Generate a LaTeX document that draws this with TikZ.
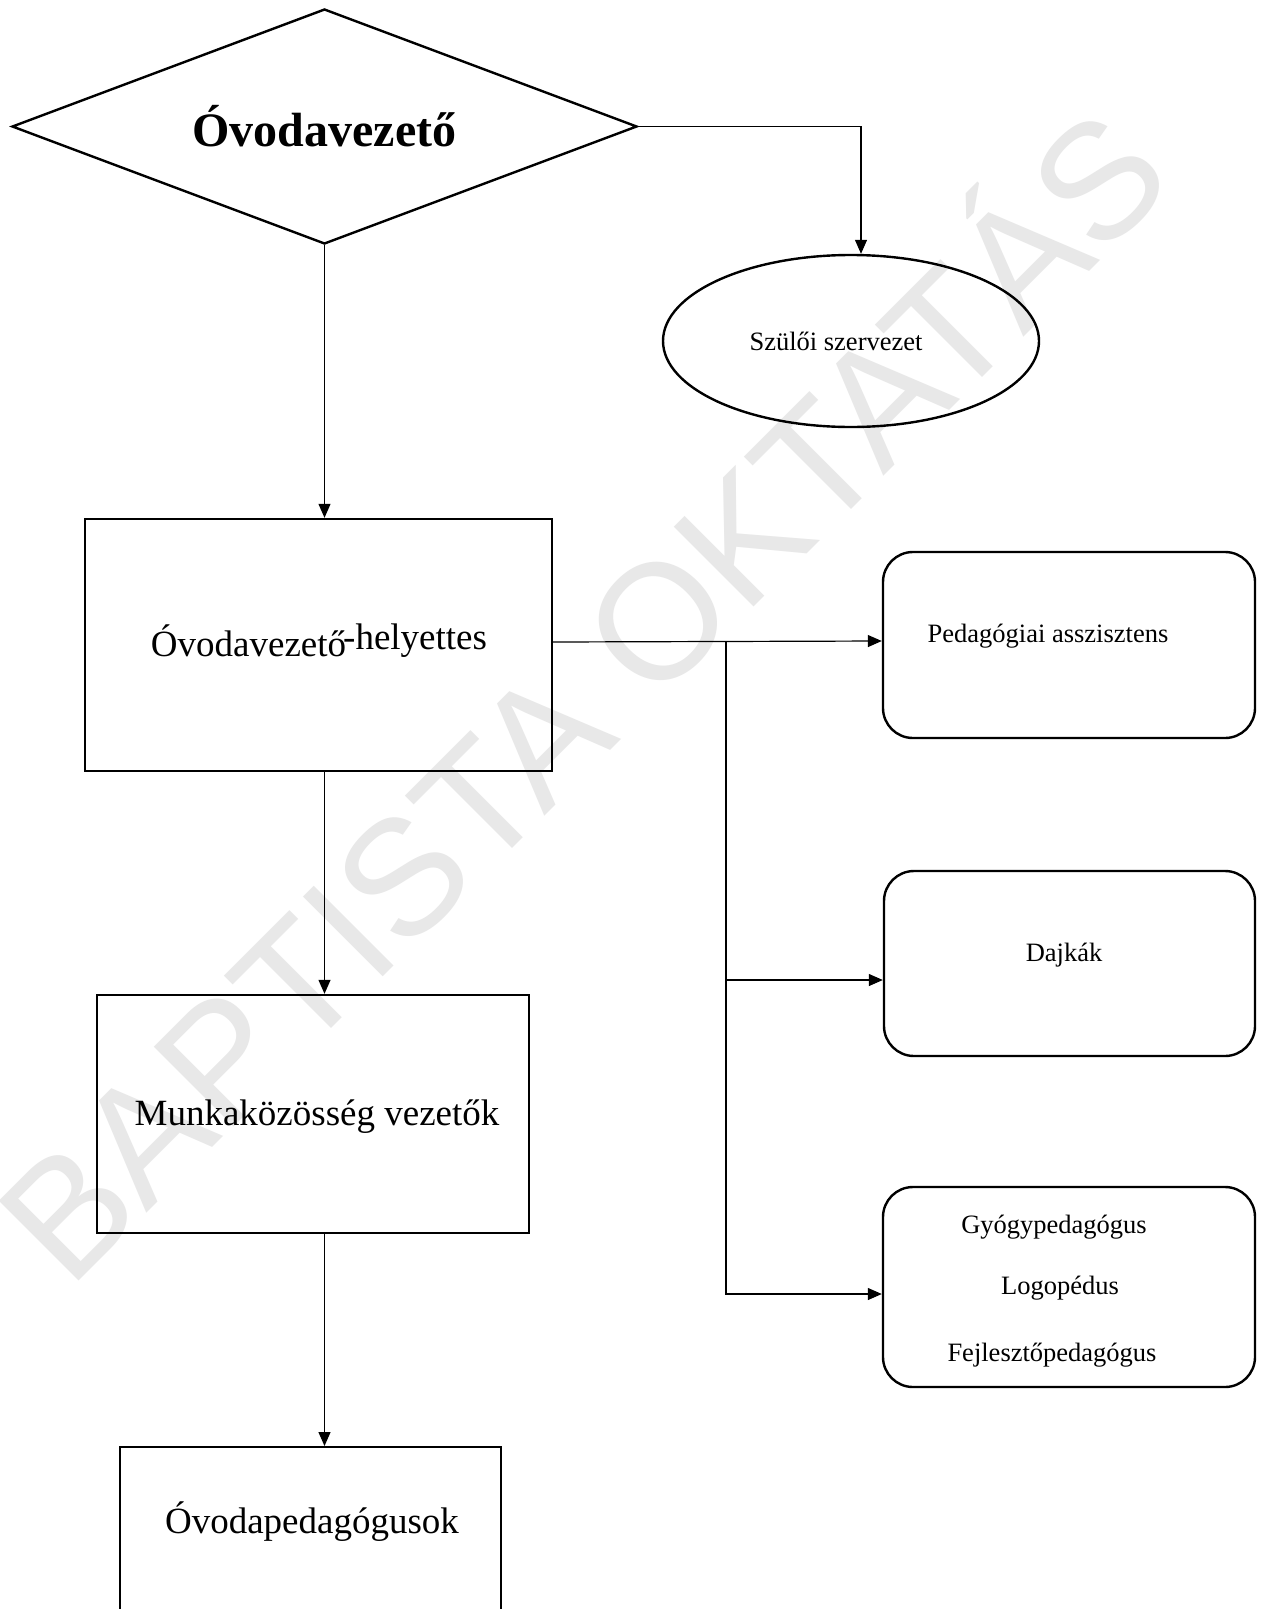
\documentclass[tikz,border=0pt]{standalone}
\usepackage{fontspec}
\setmainfont{Liberation Serif}
\newfontfamily\wmfont{Liberation Sans}
\usetikzlibrary{shapes.geometric,arrows.meta,calc}
\begin{document}
\begin{tikzpicture}[x=1pt,y=-1pt,
  shp/.style={draw,line width=2.4pt,inner sep=0pt},
  box/.style={shp,rectangle},
  rbox/.style={shp,rectangle,rounded corners=30pt},
  big/.style={font=\fontsize{37}{44}\selectfont,inner sep=0pt},
  small/.style={font=\fontsize{26.5}{32}\selectfont,inner sep=0pt},
  conn/.style={line width=1.2pt},
  arr/.style={conn,-{Triangle[length=14pt,width=12pt]}}]
\fill[white] (0,0) rectangle (1264,1609);
\useasboundingbox (0,0) rectangle (1264,1609);
% watermark
\node[rotate=45,text=black!9,inner sep=0pt,font=\wmfont\fontsize{164}{164}\selectfont] (wm) at (574,687) {BAPTISTA OKTATÁS};
% shapes
\node[shp,diamond,aspect=2.66,minimum width=625pt,minimum height=235pt,font=\bfseries\fontsize{48}{52}\selectfont] (dia) at (324.5,126.5) {Óvodavezető};
\node[shp,ellipse,minimum width=376pt,minimum height=172pt] (ell) at (851,341) {};
\node[small] (elltxt) at (836,341) {Szülői szervezet};
\node[box,minimum width=467pt,minimum height=252pt] (hely) at (318.5,645) {};
\node[big] (helytxt) at (319,641) {Óvodavezető\kern-3pt\raisebox{7pt}{-helyettes}};
\node[box,minimum width=432pt,minimum height=238pt] (munka) at (313,1114) {};
\node[big] (munkatxt) at (317,1117) {Munkaközösség vezetők};
\node[box,minimum width=381pt,minimum height=260pt,anchor=north] (ovped) at (310.5,1446) {};
\node[big] (ovpedtxt) at (312,1522) {Óvodapedagógusok};
\node[rbox,minimum width=372pt,minimum height=186pt] (ped) at (1069,645) {};
\node[small] (pedtxt) at (1048,636) {Pedagógiai asszisztens};
\node[rbox,minimum width=371pt,minimum height=185pt] (daj) at (1069.5,963.5) {};
\node[small] (dajtxt) at (1064,955) {Dajkák};
\node[rbox,minimum width=372pt,minimum height=200pt] (gyo) at (1069,1287) {};
\node[small] (gytxta) at (1054,1227) {Gyógypedagógus};
\node[small] (gytxtb) at (1060,1288) {Logopédus};
\node[small] (gytxtc) at (1052,1355) {Fejlesztőpedagógus};
% connectors
\coordinate (tr) at (726,641);
\coordinate (j2) at (726,980);
\coordinate (j3) at (726,1294);
\draw[arr] (dia.east) -| ($(ell.north)+(10,0)$);
\draw[arr] (dia.south) -- (dia.south |- hely.north);
\draw[arr] ($(hely.east)+(0,-3)$) -- ($(hely.east -| ped.west)+(0,-4)$);
\draw[arr] (tr) -- (j3) -- (j3 -| gyo.west);
\draw[arr] (j2) -- (j2 -| daj.west);
\draw[arr] (dia.south |- hely.south) -- (dia.south |- munka.north);
\draw[arr] (dia.south |- munka.south) -- (dia.south |- ovped.north);
\end{tikzpicture}
\end{document}
